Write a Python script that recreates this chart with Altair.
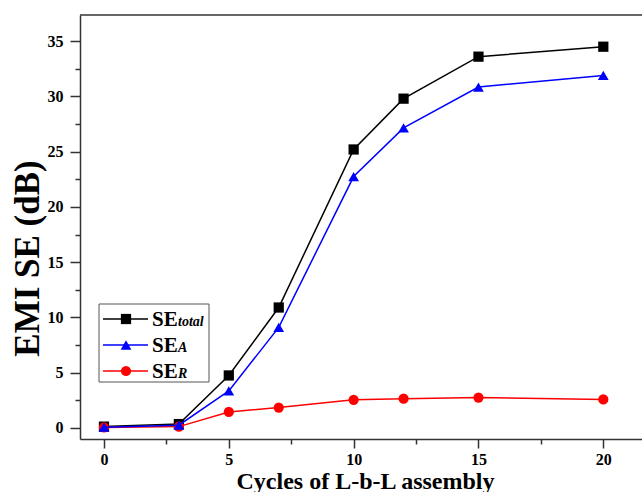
import altair as alt
import pandas as pd

# ---- data ----
cycles = [0, 3, 5, 7, 10, 12, 15, 20]
se_total = [0.12, 0.35, 4.75, 10.9, 25.2, 29.8, 33.6, 34.5]
se_a = [0.07, 0.25, 3.35, 9.1, 22.75, 27.15, 30.85, 31.9]
se_r = [0.05, 0.12, 1.45, 1.85, 2.55, 2.65, 2.75, 2.58]

series_keys = ["total", "A", "R"]
series_subs = ["total", "A", "R"]
series_colors = ["#000000", "#0000ff", "#ff0000"]
series_shapes = ["square", "triangle-up", "circle"]
series_values = [se_total, se_a, se_r]

x_tick_values = [0, 2.5, 5, 7.5, 10, 12.5, 15, 17.5, 20]
y_tick_values = [0, 2.5, 5, 7.5, 10, 12.5, 15, 17.5, 20, 22.5, 25, 27.5, 30, 32.5, 35]

x_title = "Cycles of L-b-L assembly"
y_title = "EMI SE (dB)"

W, H = 562, 424
FONT = "Liberation Serif"
AXC = "#333333"

major_test = "abs(datum.value % 5) < 0.001"

x_enc = alt.X(
    "x:Q",
    scale=alt.Scale(domain=[-0.96, 21.55], nice=False, zero=False),
    axis=alt.Axis(
        values=x_tick_values,
        labelExpr=f"{major_test} ? datum.label : ''",
        tickSize={"condition": {"test": major_test, "value": 9}, "value": 5},
        labelPadding=3,
        labelOverlap=False,
        labelFlush=False,
        title=x_title,
        titleFont=FONT,
        titleFontSize=24,
        titleFontWeight="bold",
        titleColor="#000000",
        titleX=285,
        titleY=49,
        titleAlign="center",
        titleBaseline="alphabetic",
        labelBaseline="top",
    ),
)
y_enc = alt.Y(
    "y:Q",
    scale=alt.Scale(domain=[-1.0, 37.37], nice=False, zero=False),
    axis=alt.Axis(
        values=y_tick_values,
        labelExpr=f"{major_test} ? datum.label : ''",
        tickSize={"condition": {"test": major_test, "value": 10}, "value": 5},
        labelPadding=7,
        labelOverlap=False,
        labelFlush=False,
        title=y_title,
        titleFont=FONT,
        titleFontSize=35,
        titleFontWeight="bold",
        titleColor="#000000",
        titleAngle=270,
        titleX=-53,
        titleY=243,
        titleAlign="center",
        titleBaseline="middle",
    ),
)

layers = []
# draw order: total (black), R (red), A (blue) on top
for idx in [0, 2, 1]:
    df = pd.DataFrame({"x": cycles, "y": series_values[idx]})
    base = alt.Chart(df).encode(x=x_enc, y=y_enc)
    layers.append(base.mark_line(color=series_colors[idx], strokeWidth=1.5))
    layers.append(
        base.mark_point(
            shape=series_shapes[idx],
            filled=True,
            color=series_colors[idx],
            opacity=1,
            size=105 if series_shapes[idx] != "triangle-up" else 115,
        )
    )

# top frame line
one = pd.DataFrame({"k": [0]})
layers.append(
    alt.Chart(one).mark_rule(color=AXC, strokeWidth=1.5).encode(y=alt.value(0))
)

# ---- manual legend ----
LX0, LX1, LY0, LY1 = 19, 129, 289, 367
layers.append(
    alt.Chart(one)
    .mark_rect(fill="white", stroke="#555555", strokeWidth=1)
    .encode(x=alt.value(LX0), x2=alt.value(LX1), y=alt.value(LY0), y2=alt.value(LY1))
)
for i in range(3):
    cy = 304 + 26 * i
    col = series_colors[i]
    layers.append(
        alt.Chart(one)
        .mark_rule(color=col, strokeWidth=1.5)
        .encode(x=alt.value(23), x2=alt.value(68), y=alt.value(cy))
    )
    layers.append(
        alt.Chart(one)
        .mark_point(shape=series_shapes[i], filled=True, color=col, opacity=1,
                    size=105 if series_shapes[i] != "triangle-up" else 115)
        .encode(x=alt.value(46), y=alt.value(cy))
    )
    layers.append(
        alt.Chart(one)
        .mark_text(align="left", baseline="alphabetic", font=FONT, fontSize=21,
                   fontWeight="bold", color="black")
        .encode(x=alt.value(72), y=alt.value(cy + 7), text=alt.value("SE"))
    )
    layers.append(
        alt.Chart(one)
        .mark_text(align="left", baseline="alphabetic", font=FONT, fontSize=14,
                   fontWeight="bold", fontStyle="italic", color="black")
        .encode(x=alt.value(98), y=alt.value(cy + 7), text=alt.value(series_subs[i]))
    )

chart = (
    alt.layer(*layers)
    .properties(
        width=W,
        height=H,
        padding={"left": 80, "top": 15, "right": 0, "bottom": 53},
        autosize=alt.AutoSizeParams(type="none"),
        background="white",
    )
    .configure_view(stroke=None)
    .configure_axis(
        grid=False,
        domainColor=AXC,
        domainWidth=1.5,
        tickColor=AXC,
        tickWidth=1.5,
        labelFont=FONT,
        labelFontSize=16,
        labelFontWeight="bold",
        labelColor="#000000",
    )
)

chart.save("out.html", embed_options={"renderer": "svg", "actions": False})
